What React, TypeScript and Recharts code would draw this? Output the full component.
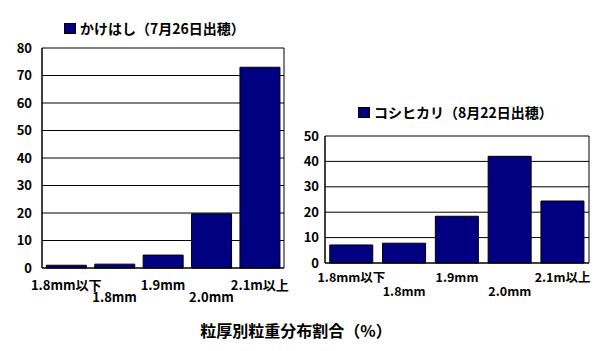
import { BarChart, Bar, XAxis, YAxis, CartesianGrid, Legend } from 'recharts';

const sizeLabels = ['1.8mm以下', '1.8mm', '1.9mm', '2.0mm', '2.1m以上'];
const kakehashiValues = [1.0, 1.4, 4.7, 19.7, 73.0];
const koshihikariValues = [7.1, 7.8, 18.4, 42.0, 24.4];
const kakehashiTicks = [0, 10, 20, 30, 40, 50, 60, 70, 80];
const koshihikariTicks = [0, 10, 20, 30, 40, 50];

const kakehashiName = 'かけはし（7月26日出穂）';
const koshihikariName = 'コシヒカリ（8月22日出穂）';
const chartTitle = '粒厚別粒重分布割合（%）';

const FONT = '"Noto Sans CJK JP", "Noto Sans", sans-serif';
const NAVY = '#000080';

const kakehashiData = sizeLabels.map((label, i) => ({ label, value: kakehashiValues[i] }));
const koshihikariData = sizeLabels.map((label, i) => ({ label, value: koshihikariValues[i] }));

// labels alternate between two rows under the axis
function StaggerTick(props: any) {
  const { x, y, payload, index, row1, row2, size = 13 } = props;
  const i = payload?.index ?? index ?? 0;
  return (
    <text
      x={x}
      y={y + (i % 2 === 0 ? row1 : row2)}
      textAnchor="middle"
      dominantBaseline="central"
      fontFamily={FONT}
      fontWeight="bold"
      fontSize={size}
      fill="#000"
    >
      {payload.value}
    </text>
  );
}

function LegendBox({ name }: { name: string }) {
  return (
    <div style={{ display: 'flex', alignItems: 'center', fontFamily: FONT }}>
      <div
        style={{
          width: 12, height: 11, background: NAVY, border: '1px solid #000',
          boxSizing: 'border-box', marginRight: 4,
        }}
      />
      <span style={{ fontSize: 14, fontWeight: 'bold', lineHeight: '14px', whiteSpace: 'nowrap' }}>{name}</span>
    </div>
  );
}

const frameLines = ({ offset }: any) => [offset.left, offset.left + offset.width];

export default function App() {
  return (
    <div style={{ position: 'fixed', left: 0, top: 0, width: 605, height: 351, background: '#fff' }}>
      <div style={{ position: 'absolute', left: 0, top: 0 }}>
        <BarChart
          width={300}
          height={310}
          data={kakehashiData}
          margin={{ top: 48, right: 16, bottom: 12, left: 0 }}
          barCategoryGap="9%"
        >
          <CartesianGrid stroke="#000" verticalCoordinatesGenerator={frameLines} />
          <XAxis
            dataKey="label"
            interval={0}
            height={30}
            tickSize={0}
            tickMargin={0}
            tickLine={false}
            axisLine={{ stroke: '#000' }}
            tick={<StaggerTick row1={16.5} row2={28} />}
          />
          <YAxis
            domain={[0, 80]}
            ticks={kakehashiTicks}
            interval={0}
            width={42}
            tickSize={0}
            tickMargin={10}
            tickLine={false}
            axisLine={{ stroke: '#000' }}
            tick={{ fill: '#000', fontSize: 13, fontWeight: 'bold', fontFamily: FONT }}
          />
          <Legend
            layout="horizontal"
            verticalAlign="middle"
            align="center"
            content={() => <LegendBox name={kakehashiName} />}
            wrapperStyle={{ top: 21, left: 64, width: 'auto' }}
          />
          <Bar
            dataKey="value"
            name={kakehashiName}
            fill={NAVY}
            stroke="#000"
            strokeWidth={1}
            isAnimationActive={false}
          />
        </BarChart>
      </div>
      <div style={{ position: 'absolute', left: 300, top: 0 }}>
        <BarChart
          width={305}
          height={310}
          data={koshihikariData}
          margin={{ top: 136, right: 16, bottom: 17, left: 0 }}
          barCategoryGap="9%"
        >
          <CartesianGrid stroke="#000" verticalCoordinatesGenerator={frameLines} />
          <XAxis
            dataKey="label"
            interval={0}
            height={30}
            tickSize={0}
            tickMargin={0}
            tickLine={false}
            axisLine={{ stroke: '#000' }}
            tick={<StaggerTick row1={13.5} row2={27.5} size={12.5} />}
          />
          <YAxis
            domain={[0, 50]}
            ticks={koshihikariTicks}
            interval={0}
            width={25}
            tickSize={0}
            tickMargin={6}
            tickLine={false}
            axisLine={{ stroke: '#000' }}
            tick={{ fill: '#000', fontSize: 13, fontWeight: 'bold', fontFamily: FONT }}
          />
          <Legend
            layout="horizontal"
            verticalAlign="middle"
            align="center"
            content={() => <LegendBox name={koshihikariName} />}
            wrapperStyle={{ top: 105, left: 58, width: 'auto' }}
          />
          <Bar
            dataKey="value"
            name={koshihikariName}
            fill={NAVY}
            stroke="#000"
            strokeWidth={1}
            isAnimationActive={false}
          />
        </BarChart>
      </div>
      <div
        style={{
          position: 'absolute', left: 0, top: 321, width: 592, textAlign: 'center',
          fontFamily: FONT, fontSize: 16, fontWeight: 'bold', lineHeight: '18px',
        }}
      >
        {chartTitle}
      </div>
    </div>
  );
}
